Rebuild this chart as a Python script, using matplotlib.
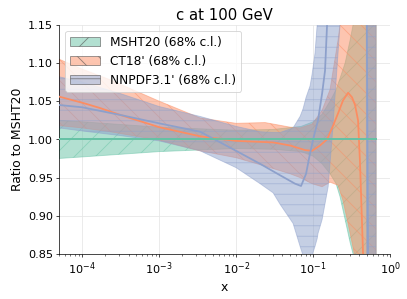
import matplotlib
matplotlib.use("Agg")
import matplotlib.pyplot as plt
from matplotlib.patches import Patch
from matplotlib.colors import to_rgba

# values (ratio to MSHT20, c at 100 GeV)
x_msht = [5.0e-5, 1.0e-4, 1.0e-3, 1.0e-2, 3.03e-2, 6.98e-2, 0.1, 0.131, 0.166,
          0.199, 0.224, 0.261, 0.303, 0.331, 0.384, 0.658]
msht_lo = [0.975, 0.977, 0.984, 0.988, 0.987, 0.984, 0.978, 0.968, 0.955,
           0.942, 0.925, 0.895, 0.865, 0.85, 0.82, 0.65]
msht_hi = [1.025, 1.023, 1.016, 1.012, 1.013, 1.017, 1.023, 1.033, 1.05,
           1.065, 1.08, 1.10, 1.13, 1.15, 1.18, 1.35]
x_msht_c = [5.0e-5, 0.658]
msht_c = [1.0, 1.0]

x_ct18 = [5.0e-5, 1.0e-4, 2.31e-4, 1.0e-3, 3.41e-3, 1.0e-2, 2.38e-2, 5.02e-2,
          6.78e-2, 9.70e-2, 0.131, 0.166, 0.211, 0.245, 0.285, 0.321, 0.351,
          0.407, 0.658]
ct18_lo = [1.018, 1.015, 1.01, 0.999, 0.985, 0.976, 0.965, 0.955, 0.95, 0.942,
           0.938, 0.944, 0.94, 0.92, 0.89, 0.865, 0.845, 0.80, 0.70]
ct18_hi = [1.105, 1.092, 1.078, 1.05, 1.028, 1.021, 1.022, 1.016, 1.015, 1.02,
           1.038, 1.065, 1.13, 1.18, 1.25, 1.30, 1.32, 1.35, 1.40]
x_ct18_c = [5.0e-5, 1.0e-4, 1.71e-4, 3.12e-4, 1.0e-3, 3.41e-3, 1.0e-2, 3.03e-2,
            5.02e-2, 7.87e-2, 9.70e-2, 0.123, 0.152, 0.182, 0.211, 0.245, 0.285,
            0.321, 0.351, 0.384, 0.407, 0.426, 0.446, 0.488]
ct18_c = [1.056, 1.048, 1.041, 1.032, 1.016, 1.004, 0.998, 0.996, 0.992, 0.986,
          0.985, 0.992, 1.0, 1.018, 1.034, 1.051, 1.061, 1.055, 1.045, 1.025,
          0.97, 0.91, 0.85, 0.80]

x_nnpdf = [5.0e-5, 1.0e-4, 3.12e-4, 1.0e-3, 3.41e-3, 1.0e-2, 2.05e-2, 3.03e-2,
           3.73e-2, 5.50e-2, 6.78e-2, 7.41e-2, 7.87e-2, 8.11e-2, 9.14e-2,
           9.70e-2, 0.106, 0.113, 0.116, 0.131, 0.157, 0.177, 0.211, 0.224,
           0.261, 0.488, 0.502, 0.658]
nnpdf_lo = [1.015, 1.011, 1.005, 0.998, 0.985, 0.963, 0.942, 0.93, 0.915, 0.89,
            0.86, 0.848, 0.843, 0.842, 0.845, 0.848, 0.86, 0.87, 0.877, 0.895,
            0.938, 1.003, 1.113, 1.15, 1.25, 1.30, 0.50, 0.50]
nnpdf_hi = [1.082, 1.075, 1.06, 1.043, 1.03, 1.017, 1.01, 1.009, 1.009, 1.015,
            1.03, 1.04, 1.05, 1.055, 1.07, 1.085, 1.113, 1.15, 1.17, 1.25,
            1.30, 1.35, 1.40, 1.40, 1.40, 1.45, 1.45, 1.50]
x_nnpdf_c = [5.0e-5, 1.0e-4, 3.12e-4, 1.0e-3, 3.41e-3, 1.0e-2, 2.05e-2, 3.73e-2,
             5.83e-2, 6.98e-2, 8.11e-2, 9.14e-2, 0.103, 0.116, 0.131, 0.143,
             0.152, 0.177, 0.488, 0.533, 0.658]
nnpdf_c = [1.045, 1.042, 1.032, 1.021, 1.01, 0.985, 0.968, 0.953, 0.942, 0.939,
           0.955, 0.982, 1.005, 1.025, 1.06, 1.09, 1.15, 1.30, 1.35, 0.60, 0.60]

labels = ["MSHT20 (68% c.l.)", "CT18' (68% c.l.)", "NNPDF3.1' (68% c.l.)"]
colors = ["#66c2a5", "#fc8d62", "#8da0cb"]
hatches = ["/", "\\", "-"]

bands = [(x_msht, msht_lo, msht_hi), (x_ct18, ct18_lo, ct18_hi),
         (x_nnpdf, nnpdf_lo, nnpdf_hi)]
centrals = [(x_msht_c, msht_c), (x_ct18_c, ct18_c), (x_nnpdf_c, nnpdf_c)]

fig = plt.figure(figsize=(6.4, 4.705), dpi=63.6)
ax = fig.add_axes([59 / 407, 1 - 254 / 299, 331 / 407, 229 / 299])

for (xb, lo, hi), c, h in zip(bands, colors, hatches):
    ax.fill_between(xb, lo, hi, facecolor=c, edgecolor=c, alpha=0.5,
                    hatch=h, linewidth=1.0, zorder=2)

for (xc, yc), c in zip(centrals, colors):
    ax.plot(xc, yc, color=c, lw=2, zorder=3)
# keep the MSHT20 reference line on top
ax.plot(x_msht_c, msht_c, color=colors[0], lw=2, zorder=4)

ax.set_xscale("log")
ax.set_xlim(5e-5, 1.0)
ax.set_ylim(0.85, 1.15)
ax.set_yticks([0.85, 0.90, 0.95, 1.00, 1.05, 1.10, 1.15])
ax.grid(True, color="#e6e6e6", lw=0.9, zorder=0)
ax.set_axisbelow(True)
ax.spines["top"].set_visible(False)
ax.spines["right"].set_visible(False)
ax.tick_params(labelsize=12.7)

ax.set_title("c at 100 GeV", fontsize=16.8)
ax.set_xlabel("x", fontsize=14)
ax.set_ylabel("Ratio to MSHT20", fontsize=14)

handles = [Patch(facecolor=to_rgba(c, 0.5), edgecolor=(0.3, 0.3, 0.3, 0.6),
                 hatch=h, label=l) for c, h, l in zip(colors, hatches, labels)]
ax.legend(handles=handles, loc="upper left", fontsize=13.8, handlelength=2.5)

fig.savefig("out.png", dpi=63.6)
